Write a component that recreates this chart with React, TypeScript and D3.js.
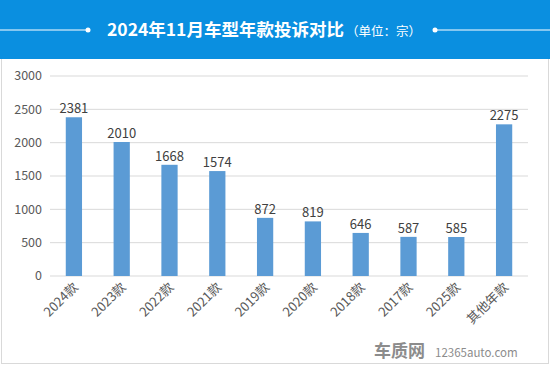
import * as d3 from 'd3';
import React, { useRef, useEffect } from 'react';

const categories = ['2024款', '2023款', '2022款', '2021款', '2019款', '2020款', '2018款', '2017款', '2025款', '其他年款'];
const values = [2381, 2010, 1668, 1574, 872, 819, 646, 587, 585, 2275];
const yTicks = [0, 500, 1000, 1500, 2000, 2500, 3000];

const W = 550;
const H = 365;
const font = '"Microsoft YaHei", "Noto Sans CJK SC", "Noto Sans", sans-serif';

const App = () => {
  const ref = useRef<SVGSVGElement>(null);

  useEffect(() => {
    const svg = d3.select(ref.current);
    svg.selectAll('*').remove();

    // background + frame
    svg.append('rect').attr('width', W).attr('height', H).attr('fill', '#ffffff');
    svg.append('rect').attr('x', 1.5).attr('y', 1.5).attr('width', W - 3).attr('height', H - 3)
      .attr('fill', 'none').attr('stroke', '#d9d9d9');

    // header
    svg.append('rect').attr('width', W).attr('height', 59).attr('fill', '#0a8fe0');
    const hy = 30;
    svg.append('line').attr('x1', 0).attr('x2', 88).attr('y1', hy).attr('y2', hy).attr('stroke', '#fff').attr('stroke-width', 1);
    svg.append('circle').attr('cx', 88).attr('cy', hy).attr('r', 2.5).attr('fill', '#fff');
    svg.append('line').attr('x1', 435).attr('x2', W).attr('y1', hy).attr('y2', hy).attr('stroke', '#fff').attr('stroke-width', 1);
    svg.append('circle').attr('cx', 435).attr('cy', hy).attr('r', 2.5).attr('fill', '#fff');
    const title = svg.append('text').attr('x', 107).attr('y', hy + 6).attr('fill', '#fff').style('font-family', font);
    title.append('tspan').attr('font-size', 17.5).attr('font-weight', 'bold').text('2024年11月车型年款投诉对比');
    title.append('tspan').attr('font-size', 12.5).attr('dx', 2).text('（单位：宗）');

    const margin = { left: 50, right: 22, top: 76, bottom: 89 };
    const x = d3.scaleBand().domain(categories).range([margin.left, W - margin.right]).paddingInner(0.66).paddingOuter(0.33);
    const y = d3.scaleLinear().domain([0, 3000]).range([H - margin.bottom, margin.top]);

    const g = svg.append('g');
    g.selectAll('line.grid').data(yTicks).enter().append('line')
      .attr('x1', margin.left).attr('x2', W - margin.right)
      .attr('y1', d => y(d)).attr('y2', d => y(d))
      .attr('stroke', '#d9d9d9').attr('stroke-width', 1);

    g.selectAll('text.yt').data(yTicks).enter().append('text')
      .attr('x', 42).attr('y', d => y(d)).attr('dy', '0.35em')
      .attr('text-anchor', 'end').attr('font-size', 12.5).attr('fill', '#595959')
      .style('font-family', font).text(d => d);

    g.selectAll('rect.bar').data(values).enter().append('rect')
      .attr('x', (_, i) => x(categories[i])!).attr('width', x.bandwidth())
      .attr('y', d => y(d)).attr('height', d => y(0) - y(d))
      .attr('fill', '#5b9bd5');

    g.selectAll('text.val').data(values).enter().append('text')
      .attr('x', (_, i) => x(categories[i])! + x.bandwidth() / 2).attr('y', d => y(d) - 4)
      .attr('text-anchor', 'middle').attr('font-size', 13).attr('fill', '#404040')
      .style('font-family', font).text(d => d);

    g.selectAll('text.cat').data(categories).enter().append('text')
      .attr('transform', d => `translate(${x(d)! + x.bandwidth() / 2 + 5},${y(0) + 12}) rotate(-45)`)
      .attr('text-anchor', 'end').attr('font-size', 13).attr('fill', '#595959')
      .style('font-family', font).text(d => d);

    // watermark
    svg.append('text').attr('x', 374).attr('y', 357).attr('font-size', 17).attr('font-weight', 'bold')
      .attr('fill', '#8c8c8c').style('font-family', font).text('车质网');
    svg.append('text').attr('x', 435).attr('y', 357).attr('font-size', 11.5).attr('fill', '#8c8c8c')
      .style('font-family', font).text('12365auto.com');
  }, []);

  return <svg ref={ref} width={W} height={H} style={{ display: 'block', position: 'absolute', left: 0, top: 0 }} />;
};

export default App;
